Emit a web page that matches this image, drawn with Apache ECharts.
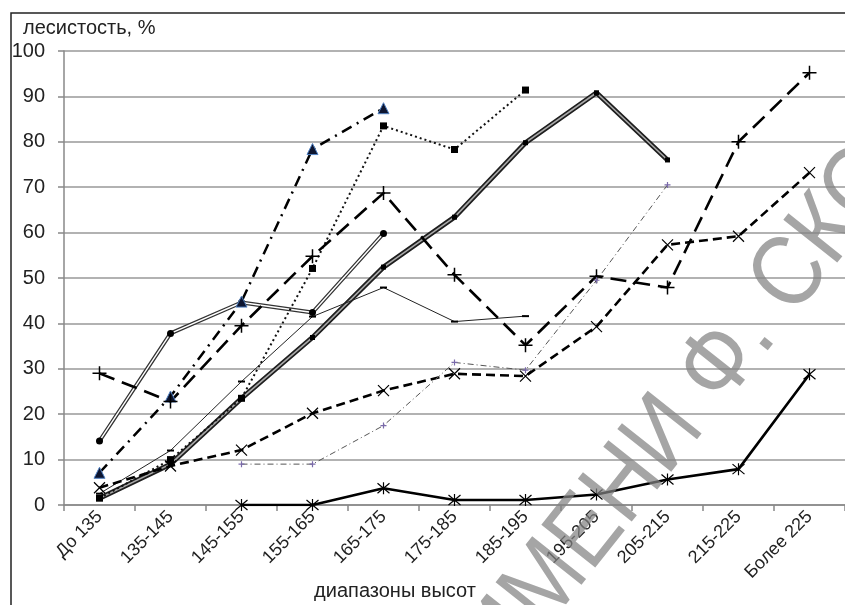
<!DOCTYPE html>
<html>
<head>
<meta charset="utf-8">
<script src="https://cdn.jsdelivr.net/npm/echarts@6/dist/echarts.min.js"></script>
<style>
html,body{margin:0;padding:0;background:#fff;}
#c{width:845px;height:605px;}
</style>
</head>
<body>
<div id="c"></div>
<script>
var categories = ['До 135','135-145','145-155','155-165','165-175','175-185','185-195','195-205','205-215','215-225','Более 225'];
var yTicks = [0,10,20,30,40,50,60,70,80,90,100];

var sAsterisk   = [null,null,0,0,3.7,1.1,1.1,2.3,5.6,7.9,28.8];
var sPlus       = [29,22.8,39.5,54.8,68.7,50.7,35.2,50.4,47.9,80,95.2];
var sCross      = [3.8,8.6,12.1,20.2,25.2,28.9,28.4,39.3,57.3,59.2,73.2];
var sTriangle   = [7.1,23.9,44.8,78.4,87.4,null,null,null,null,null,null];
var sSquare     = [1.5,10,23.5,52.1,83.5,78.3,91.4,null,null,null,null];
var sThick      = [1.5,9,23.5,36.9,52.4,63.4,79.8,90.8,76.0,null,null];
var sRound      = [14.1,37.8,44.6,42.4,59.8,null,null,null,null,null,null];
var sThin       = [2.5,12,27.2,41.5,47.9,40.4,41.6,null,null,null,null];
var sDashDot    = [null,null,9,9,17.5,31.4,29.7,49.5,70.5,null,null];

var P_ASTER = 'path://M0 0L10 10M10 0L0 10M5 -1L5 11';
var P_PLUS = 'path://M5 0L5 10M0 5L10 5';
var P_CROSS = 'path://M0 0L10 10M10 0L0 10';

var chart = echarts.init(document.getElementById('c'), null, {renderer:'canvas'});
var font = 'Liberation Sans, Arial, sans-serif';

function strokeSym(sym, size, col, bw){
  return {symbol:sym, symbolSize:size, showSymbol:true,
    itemStyle:{color:'rgba(0,0,0,0)', borderColor:col, borderWidth:bw}};
}

var series = [
  {type:'line', data:sThick, showSymbol:false, lineStyle:{color:'#1e1e1e', width:5}, z:2},
  {type:'line', data:sThick, symbol:'rect', symbolSize:5, itemStyle:{color:'#000'}, lineStyle:{color:'#a8a8a8', width:1.6}, z:3},
  {type:'line', data:sRound, showSymbol:false, lineStyle:{color:'#333', width:4}, z:2},
  {type:'line', data:sRound, symbol:'circle', symbolSize:7, itemStyle:{color:'#000'}, lineStyle:{color:'#fff', width:1.4}, z:3},
  {type:'line', data:sThin, symbol:'rect', symbolSize:[7,2], itemStyle:{color:'#000'}, lineStyle:{color:'#222', width:1}, z:4},
  {type:'line', data:sSquare, symbol:'rect', symbolSize:7, itemStyle:{color:'#000'}, lineStyle:{color:'#111', width:2, type:[2,3]}, z:4},
  {type:'line', data:sTriangle, symbol:'triangle', symbolSize:11, itemStyle:{color:'#0d1530', borderColor:'#4f7fc0', borderWidth:1}, lineStyle:{color:'#000', width:2.5, type:[11,6,2,6]}, z:4},
  Object.assign({type:'line', data:sPlus, lineStyle:{color:'#000', width:2.6, type:[16,8]}, z:4}, strokeSym(P_PLUS, 14, '#000', 1.5)),
  Object.assign({type:'line', data:sCross, lineStyle:{color:'#000', width:2.6, type:[9,5]}, z:4}, strokeSym(P_CROSS, 11, '#000', 1.2)),
  Object.assign({type:'line', data:sDashDot, lineStyle:{color:'#555', width:1, type:[6,3,1,3]}, z:4}, strokeSym(P_PLUS, 6, '#7a6aaa', 1.2)),
  Object.assign({type:'line', data:sAsterisk, lineStyle:{color:'#000', width:2.6}, z:4}, strokeSym(P_ASTER, 12, '#000', 1.2))
];

chart.setOption({
  animation:false,
  backgroundColor:'#fff',
  grid:{left:64, top:51, right:-7, bottom:100},
  xAxis:{
    type:'category', data:categories, boundaryGap:true,
    axisLine:{show:true, lineStyle:{color:'#888', width:1.5}},
    axisTick:{show:true, length:6, lineStyle:{color:'#888', width:1.5}},
    axisLabel:{rotate:45, fontSize:18, color:'#222', fontFamily:font, margin:9, interval:0}
  },
  yAxis:{
    type:'value', min:yTicks[0], max:yTicks[yTicks.length-1], interval:10,
    axisLine:{show:true, lineStyle:{color:'#888', width:1.5}},
    axisTick:{show:true, length:6, lineStyle:{color:'#888', width:1.5}},
    axisLabel:{fontSize:20, color:'#222', fontFamily:font, margin:19},
    splitLine:{show:true, lineStyle:{color:'#999', width:1.5}}
  },
  series:series,
  graphic:[
    {type:'rect', shape:{x:11, y:13, width:900, height:700}, style:{fill:'none', stroke:'#222', lineWidth:1.5}, z:0, silent:true},
    {type:'text', left:23, top:18, style:{text:'лесистость, %', font:'20px '+font, fill:'#222'}, z:10},
    {type:'text', x:395, y:591, style:{text:'диапазоны высот', font:'20px '+font, fill:'#222', textAlign:'center', textVerticalAlign:'middle'}, z:10},
    {type:'text', x:445, y:632, rotation:0.9, scaleX:0.88, style:{text:'ИМЕНИ Ф. СКОРИНЫ', font:'100px '+font, fill:'rgba(130,130,130,0.72)', textBaseline:'alphabetic'}, z:20, silent:true}
  ]
});
</script>
</body>
</html>
